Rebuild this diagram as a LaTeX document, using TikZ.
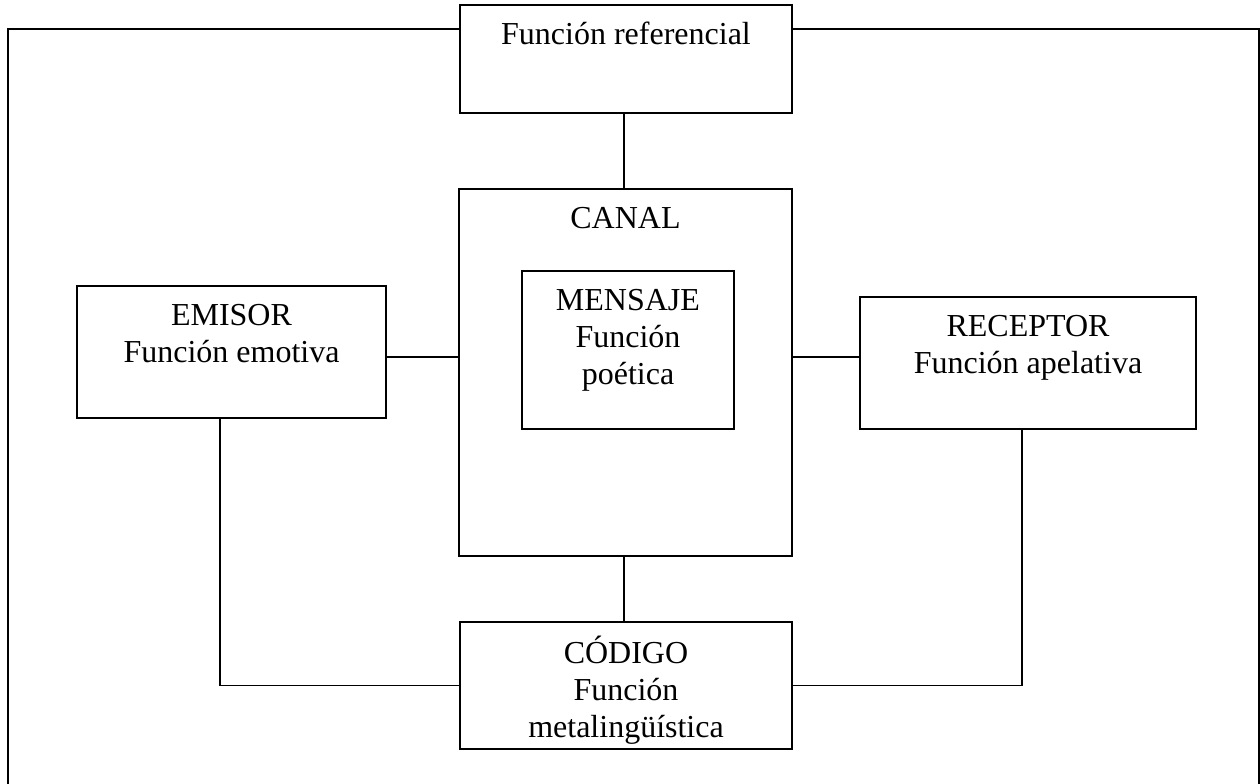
\documentclass[tikz,border=0pt]{standalone}
\usepackage{fontspec}
\setmainfont{Liberation Serif}
\usetikzlibrary{positioning}

\tikzset{
  caja/.style={draw, line width=0.6pt, inner sep=0pt},
  texto/.style={anchor=north, align=center, inner sep=0pt, yshift=-5.6pt,
    font=\fontsize{12.8}{14.8}\selectfont},
  linea/.style={line width=0.5pt},
  marco/.style={line width=0.7pt}
}

\begin{document}
\begin{tikzpicture}[x=0.4pt,y=-0.4pt]
	\useasboundingbox (0,0) rectangle (1260,784);
	% cajas
	\node[caja, minimum width=132.8pt, minimum height=43.2pt] (ref) at (626,59) {};
	\node[caja, minimum width=133.2pt, minimum height=146.8pt] (canal) at (625.5,372.5) {};
	\node[caja, minimum width=84.8pt, minimum height=63.2pt] (mensaje) at (628,350) {};
	\node[caja, minimum width=123.6pt, minimum height=52.8pt] (emisor) at (231.5,352) {};
	\node[caja, minimum width=134.4pt, minimum height=52.8pt] (receptor) at (1028,363) {};
	\node[caja, minimum width=132.8pt, minimum height=50.8pt] (codigo) at (626,685.5) {};

	% textos
	\node[texto] (reftxt) at (ref.north) {\strut Función referencial};
	\node[texto] (canaltxt) at (canal.north) {\strut CANAL};
	\node[texto] (mensajetxt) at (mensaje.north) {\strut MENSAJE\\Función\\poética};
	\node[texto] (emisortxt) at (emisor.north) {\strut EMISOR\\Función emotiva};
	\node[texto] (receptortxt) at (receptor.north) {\strut RECEPTOR\\Función apelativa};
	\node[texto] (codigotxt) at (codigo.north) {\strut CÓDIGO\\Función\\metalingüística};

	% conexiones
	\coordinate (medio) at (0,357);
	\coordinate (eje) at (624,0);
	\draw[linea] (ref.south -| eje) -- (canal.north -| eje);
	\draw[linea] (canal.south -| eje) -- (codigo.north -| eje);
	\draw[linea] (emisor.east |- medio) -- (canal.west |- medio);
	\draw[linea] (canal.east |- medio) -- (receptor.west |- medio);
	\draw[linea] (codigo.west) -| ([xshift=-4.6pt]emisor.south);
	\draw[linea] (codigo.east) -| ([xshift=-2.4pt]receptor.south);

	% marco exterior
	\coordinate (arriba) at (0,29);
	\draw[marco] (ref.west |- arriba) -- (8,29) -- (8,784);
	\draw[marco] (ref.east |- arriba) -- (1259,29) -- (1259,784);
\end{tikzpicture}
\end{document}
